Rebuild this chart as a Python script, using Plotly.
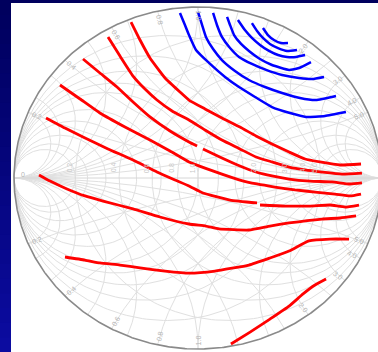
import numpy as np
import plotly.graph_objects as go

# ---- load-pull contours (reflection coefficient, real / imaginary parts) ----
# output power contours (red)
red_1_re = [-0.364, -0.315, -0.261, -0.179, -0.098, -0.049, 0.038, 0.130, 0.228, 0.315, 0.402, 0.495, 0.582, 0.663, 0.772, 0.886]
red_1_im = [0.912, 0.807, 0.702, 0.585, 0.503, 0.456, 0.404, 0.351, 0.298, 0.246, 0.199, 0.152, 0.111, 0.094, 0.076, 0.082]

red_2_re = [-0.489, -0.424, -0.353, -0.288, -0.223, -0.141, -0.049, 0.038, 0.130, 0.228, 0.315, 0.402, 0.495, 0.582, 0.674, 0.783, 0.891]
red_2_im = [0.825, 0.713, 0.596, 0.520, 0.456, 0.392, 0.339, 0.281, 0.222, 0.170, 0.123, 0.094, 0.064, 0.047, 0.035, 0.023, 0.029]

red_3_re = [-0.625, -0.533, -0.440, -0.353, -0.261, -0.152, -0.049, -0.005, None, 0.027, 0.130, 0.228, 0.315, 0.402, 0.495, 0.609, 0.728, 0.826, 0.891]
red_3_im = [0.696, 0.614, 0.532, 0.444, 0.357, 0.275, 0.211, 0.187, None, 0.170, 0.117, 0.070, 0.035, 0.012, -0.006, -0.018, -0.023, -0.035, -0.029]

red_4_re = [-0.750, -0.641, -0.533, -0.397, -0.261, -0.152, -0.049, 0.038, 0.130, 0.228, 0.321, 0.418, 0.527, 0.636, 0.745, 0.826, 0.886]
red_4_im = [0.544, 0.462, 0.380, 0.298, 0.222, 0.158, 0.094, 0.058, 0.023, -0.012, -0.035, -0.053, -0.070, -0.082, -0.094, -0.105, -0.094]

red_5_re = [-0.826, -0.723, -0.625, -0.489, -0.353, -0.223, -0.125, -0.049, 0.027, 0.174, 0.321, None, 0.337, 0.473, 0.609, 0.717, 0.799, 0.875]
red_5_im = [0.351, 0.292, 0.240, 0.170, 0.105, 0.035, -0.012, -0.047, -0.088, -0.129, -0.146, None, -0.158, -0.164, -0.164, -0.158, -0.170, -0.158]

red_6_re = [-0.864, -0.804, -0.712, -0.614, -0.516, -0.353, -0.207, -0.049, 0.043, 0.114, 0.277, 0.391, 0.495, 0.674, 0.772, 0.859]
red_6_im = [0.018, -0.018, -0.064, -0.105, -0.135, -0.181, -0.228, -0.269, -0.281, -0.298, -0.304, -0.281, -0.263, -0.240, -0.234, -0.222]

red_7_re = [-0.723, -0.614, -0.533, -0.424, -0.315, -0.179, -0.049, 0.092, 0.277, 0.391, 0.495, 0.603, 0.717, 0.821]
red_7_im = [-0.462, -0.480, -0.497, -0.509, -0.526, -0.544, -0.556, -0.544, -0.509, -0.468, -0.427, -0.368, -0.357, -0.357]

red_8_re = [0.179, 0.283, 0.391, 0.495, 0.571, 0.636, 0.696]
red_8_im = [-0.971, -0.901, -0.825, -0.749, -0.678, -0.626, -0.591]

# efficiency contours (blue)
blue_1_re = [-0.098, -0.071, -0.049, -0.011, 0.060, 0.147, 0.223, 0.310, 0.402, 0.500, 0.587, 0.690, 0.804]
blue_1_im = [0.965, 0.895, 0.836, 0.749, 0.673, 0.591, 0.532, 0.474, 0.415, 0.380, 0.357, 0.363, 0.386]

blue_2_re = [0.000, 0.022, 0.043, 0.082, 0.130, 0.201, 0.277, 0.364, 0.457, 0.554, 0.641, 0.750]
blue_2_im = [0.971, 0.895, 0.825, 0.754, 0.690, 0.626, 0.573, 0.532, 0.497, 0.468, 0.456, 0.480]

blue_3_re = [0.082, 0.103, 0.130, 0.174, 0.223, 0.293, 0.370, 0.457, 0.549, 0.620, 0.685]
blue_3_im = [0.965, 0.895, 0.825, 0.760, 0.708, 0.667, 0.632, 0.602, 0.585, 0.579, 0.591]

blue_4_re = [0.158, 0.174, 0.196, 0.234, 0.277, 0.337, 0.402, 0.495, 0.549, 0.614]
blue_4_im = [0.942, 0.895, 0.836, 0.784, 0.743, 0.696, 0.661, 0.632, 0.643, 0.678]

blue_5_re = [0.217, 0.255, 0.293, 0.337, 0.386, 0.435, 0.484, 0.533, 0.582]
blue_5_im = [0.924, 0.865, 0.819, 0.778, 0.743, 0.719, 0.708, 0.708, 0.719]

blue_6_re = [0.293, 0.321, 0.353, 0.391, 0.435, 0.484, 0.538]
blue_6_im = [0.906, 0.860, 0.819, 0.784, 0.760, 0.743, 0.749]

blue_7_re = [0.353, 0.380, 0.413, 0.451, 0.489]
blue_7_im = [0.877, 0.836, 0.807, 0.789, 0.789]

# ---- Smith chart grid values and rim labels ----
grid_values = [0.2, 0.4, 0.6, 0.8, 1.0, 1.5, 2.0, 3.0, 4.0, 5.0]
rim_labels = ["0.2", "0.4", "0.6", "0.8", "1.0", "2.0", "3.0", "4.0", "5.0"]
axis_labels = ["0.2", "0.4", "0.6", "0.8", "1.0", "2.0", "3.0", "4.0", "5.0"]

W, H = 378, 352
PX_LEFT, PX_TOP = 11, 3          # white panel origin
CX, CY, RX, RY = 198, 178, 184, 171  # chart centre / radii in pixels

x_range = [(PX_LEFT - CX) / RX, (W - CX) / RX]
y_range = [(CY - H) / RY, (CY - PX_TOP) / RY]


def gamma(z):
    return (z - 1) / (z + 1)


sweep = np.concatenate([[0.0], np.geomspace(1e-3, 1e3, 500)])
full = np.concatenate([-sweep[::-1], sweep])

gx, gy = [], []


def add_curve(g):
    gx.extend(list(g.real) + [None])
    gy.extend(list(g.imag) + [None])


for v in grid_values:
    # impedance grid: constant resistance circles and reactance arcs
    add_curve(np.append(gamma(v + 1j * full), 1.0))
    add_curve(np.append(gamma(sweep + 1j * v), 1.0))
    add_curve(np.append(gamma(sweep - 1j * v), 1.0))
    # admittance grid (mirrored)
    add_curve(-np.append(gamma(v + 1j * full), 1.0))
    add_curve(-np.append(gamma(sweep + 1j * v), 1.0))
    add_curve(-np.append(gamma(sweep - 1j * v), 1.0))

fig = go.Figure()

fig.add_trace(go.Scatter(x=gx, y=gy, mode="lines", hoverinfo="skip",
                         line=dict(color="#e0e0e0", width=1)))
fig.add_trace(go.Scatter(x=[-1, 1], y=[0, 0], mode="lines", hoverinfo="skip",
                         line=dict(color="#d6d6d6", width=1)))

theta = np.linspace(0, 2 * np.pi, 721)
fig.add_trace(go.Scatter(x=np.cos(theta), y=np.sin(theta), mode="lines",
                         hoverinfo="skip", line=dict(color="#8a8a8a", width=1.6)))

reds = [(red_1_re, red_1_im), (red_2_re, red_2_im), (red_3_re, red_3_im),
        (red_4_re, red_4_im), (red_5_re, red_5_im), (red_6_re, red_6_im),
        (red_7_re, red_7_im), (red_8_re, red_8_im)]
blues = [(blue_1_re, blue_1_im), (blue_2_re, blue_2_im), (blue_3_re, blue_3_im),
         (blue_4_re, blue_4_im), (blue_5_re, blue_5_im), (blue_6_re, blue_6_im),
         (blue_7_re, blue_7_im)]

for re_, im_ in reds:
    fig.add_trace(go.Scatter(x=re_, y=im_, mode="lines", connectgaps=False,
                             line=dict(color="#ff0000", width=2.8, shape="spline", smoothing=0.4)))
for re_, im_ in blues:
    fig.add_trace(go.Scatter(x=re_, y=im_, mode="lines",
                             line=dict(color="#0000ff", width=2.5, shape="spline", smoothing=0.4)))

# rim labels at the reactance arc ends
annotations = []
for lab in rim_labels:
    xv = float(lab)
    for sgn in (1, -1):
        g = gamma(1j * sgn * xv) * 0.95
        if g.real <= 0.001:
            ang = np.degrees(np.arctan2(g.imag * RY, -g.real * RX))
        else:
            ang = np.degrees(np.arctan2(-g.imag * RY, g.real * RX))
        annotations.append(dict(x=g.real, y=g.imag, text=lab, showarrow=False,
                                textangle=float(ang), xref="x", yref="y",
                                font=dict(size=7, color="#b4b4b4", family="Liberation Sans")))
annotations.append(dict(x=-0.95, y=0.02, text="0", showarrow=False, xref="x", yref="y",
                        font=dict(size=7, color="#b4b4b4", family="Liberation Sans")))
# resistance labels along the real axis
for lab in axis_labels:
    g = gamma(float(lab))
    annotations.append(dict(x=g.real - 0.03, y=0.06, text=lab, showarrow=False,
                            textangle=-90, xref="x", yref="y",
                            font=dict(size=7, color="#c8c8c8", family="Liberation Sans")))

# dark-blue slide backdrop with a gradient along the left strip
shapes = []
n_bands = 24
top_rgb = np.array([0, 0, 94])
bot_rgb = np.array([12, 12, 160])
for i in range(n_bands):
    f = i / (n_bands - 1)
    c = (bot_rgb * (1 - f) + top_rgb * f).astype(int)
    shapes.append(dict(type="rect", xref="paper", yref="paper", layer="below",
                       x0=0, x1=PX_LEFT / W, y0=i / n_bands, y1=(i + 1) / n_bands + 0.002,
                       line=dict(width=0), fillcolor=f"rgb({c[0]},{c[1]},{c[2]})"))

fig.update_layout(
    width=W, height=H,
    margin=dict(l=0, r=0, t=0, b=0, pad=0),
    paper_bgcolor="#00005e",
    plot_bgcolor="#ffffff",
    showlegend=False,
    xaxis=dict(domain=[PX_LEFT / W, 1], range=x_range, visible=False, fixedrange=True),
    yaxis=dict(domain=[0, (H - PX_TOP) / H], range=y_range, visible=False, fixedrange=True),
    annotations=annotations,
    shapes=shapes,
)

fig.write_html("out.html")
